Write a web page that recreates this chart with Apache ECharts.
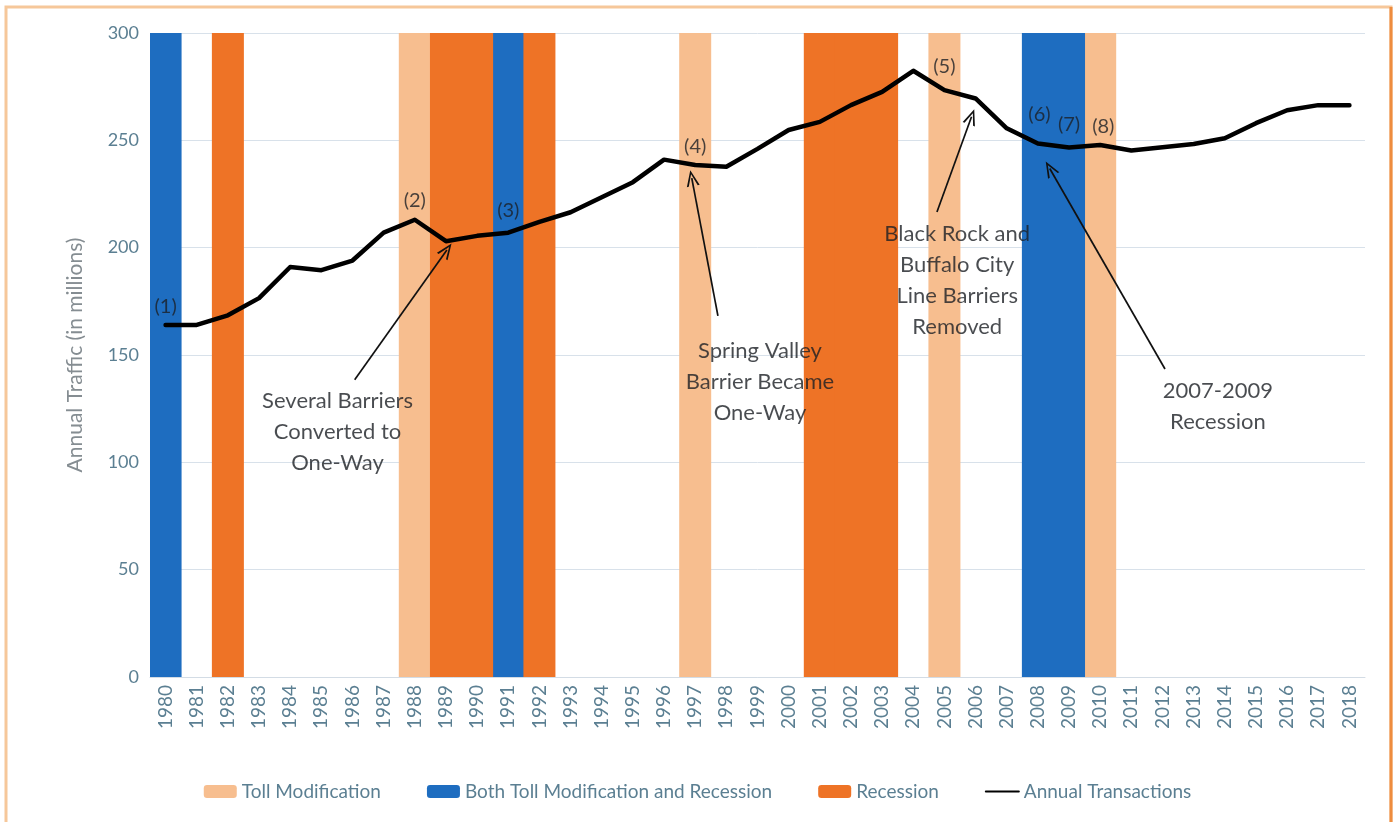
<!DOCTYPE html>
<html>
<head>
<meta charset="utf-8">
<script src="https://cdn.jsdelivr.net/npm/echarts@6/dist/echarts.min.js"></script>
<style>html,body{margin:0;padding:0;background:#fff;}#c{width:1395px;height:822px;}</style>
</head>
<body>
<div id="c"></div>
<script>
// ---- data ----
const years = [1980,1981,1982,1983,1984,1985,1986,1987,1988,1989,1990,1991,1992,1993,1994,1995,1996,1997,1998,1999,2000,2001,2002,2003,2004,2005,2006,2007,2008,2009,2010,2011,2012,2013,2014,2015,2016,2017,2018];
const annualTransactions = [164,164,168.5,176.5,191,189.5,194,207,213,203,205.5,207,212,216.5,223.5,230.5,241,238.5,237.7,246,254.8,258.6,266.4,272.6,282.4,273.4,269.5,255.6,248.5,246.7,247.8,245.3,246.8,248.3,251,258,264,266.4,266.4];
const tollModificationYears = [1988,1997,2005,2010];
const bothYears = [1980,1991,2008,2009];
const recessionYears = [1982,1989,1990,1992,2001,2002,2003];
const bandTop = 300;
const yTicks = [0,50,100,150,200,250,300];
// event markers: [year, value, label]
const eventMarks = [
  [1980,172.8,'(1)'],[1988,222,'(2)'],[1991,217.5,'(3)'],[1997,247,'(4)'],
  [2005,284.6,'(5)'],[2008.05,262,'(6)'],[2009,257.5,'(7)'],[2010.1,256.6,'(8)']
];
// text notes: [year position, value, text]
const notes = [
  [1985.52,114.1,'Several Barriers\nConverted to\nOne-Way'],
  [1999.08,137.4,'Spring Valley\nBarrier Became\nOne-Way'],
  [2005.41,184.9,'Black Rock and\nBuffalo City\nLine Barriers\nRemoved'],
  [2013.78,126.2,'2007-2009\nRecession']
];
// arrows: [fromYear, fromValue, toYear, toValue]
const arrows = [
  [1986.07,138.5,1989.03,198.9],
  [1997.73,168.2,1996.89,232.4],
  [2004.76,216.6,2005.87,261.0],
  [2012.08,143.5,2008.38,236.9]
];

const cats = years.map(String);
const band = (list) => years.map(y => list.includes(y) ? bandTop : null);

const C_TOLL = '#F7BE8F', C_BOTH = '#1E6DC0', C_REC = '#EE7326';
const axisTxt = '#5b7f92';
const FONT = 'Lato';

const chart = echarts.init(document.getElementById('c'), null, {renderer:'canvas'});
chart.setOption({
  backgroundColor: '#ffffff',
  animation: false,
  textStyle: {fontFamily: FONT},
  grid: {left: 150, right: 30, top: 33, bottom: 145, containLabel: false},
  legend: {
    data: ['Toll Modification','Both Toll Modification and Recession','Recession',
      {name: 'Annual Transactions', itemStyle: {opacity: 0}}],
    bottom: 16, left: 'center',
    itemWidth: 33, itemHeight: 13, itemGap: 46,
    textStyle: {fontSize: 19, color: axisTxt, fontFamily: FONT}
  },
  xAxis: [{
    type: 'category', data: cats, boundaryGap: true,
    axisLine: {show: true, lineStyle: {color: '#d3dce5', width: 1}},
    axisTick: {show: false},
    axisLabel: {rotate: 90, interval: 0, fontSize: 19, color: axisTxt, margin: 8, fontFamily: FONT}
  },{
    type: 'value', min: 1979.5, max: 2018.5, show: false
  }],
  yAxis: {
    type: 'value', min: 0, max: 300, interval: 50,
    name: 'Annual Traffic (in millions)', nameLocation: 'middle', nameGap: 64,
    nameTextStyle: {fontSize: 21, color: '#858d92', fontFamily: FONT},
    axisLine: {show: false}, axisTick: {show: false},
    axisLabel: {fontSize: 18, color: axisTxt, margin: 11, fontFamily: FONT,
      formatter: v => yTicks.includes(v) ? String(v) : ''},
    splitLine: {lineStyle: {color: '#d8e1ea', width: 1}}
  },
  graphic: [
    {type: 'rect', shape: {x: 6, y: 7, width: 1385, height: 840}, style: {fill: 'none', stroke: '#F6C79A', lineWidth: 3}, z: 100},
    {type: 'line', shape: {x1: 1391, y1: 7, x2: 1391, y2: 822}, style: {stroke: '#EE8C3E', lineWidth: 3}, z: 101}
  ],
  series: [
    {name: 'Toll Modification', type: 'bar', stack: 'b', data: band(tollModificationYears),
     itemStyle: {color: C_TOLL}, barWidth: 32, barCategoryGap: '0%', z: 1},
    {name: 'Both Toll Modification and Recession', type: 'bar', stack: 'b', data: band(bothYears),
     itemStyle: {color: C_BOTH}, barWidth: 32, z: 1},
    {name: 'Recession', type: 'bar', stack: 'b', data: band(recessionYears),
     itemStyle: {color: C_REC}, barWidth: 32, z: 1},
    {name: 'Annual Transactions', type: 'line', data: annualTransactions,
     symbol: 'none', smooth: false, z: 5,
     itemStyle: {color: '#000'},
     lineStyle: {color: '#000', width: 4.5, cap: 'round', join: 'round'}},
    {name: 'events', type: 'scatter', xAxisIndex: 1, data: eventMarks,
     symbolSize: 0, z: 6, silent: true,
     label: {show: true, position: 'inside', formatter: p => p.value[2],
       fontSize: 20, color: '#1b1f24', fontFamily: FONT}},
    {name: 'notes', type: 'scatter', xAxisIndex: 1, data: notes,
     symbolSize: 0, z: 6, silent: true,
     label: {show: true, position: 'inside', formatter: p => p.value[2],
       fontSize: 22, lineHeight: 31, align: 'center', color: '#1b1f24', fontFamily: FONT},
     markLine: {
       silent: true, animation: false,
       symbol: ['none', 'path://M5,0 L10,13 L8.5,13 L5,3.4 L1.5,13 L0,13 Z'],
       symbolSize: [13, 16],
       lineStyle: {color: '#111', width: 1.7, type: 'solid'},
       label: {show: false},
       data: arrows.map(a => [{coord: [a[0], a[1]]}, {coord: [a[2], a[3]]}])
     }}
  ]
});
</script>
</body>
</html>
